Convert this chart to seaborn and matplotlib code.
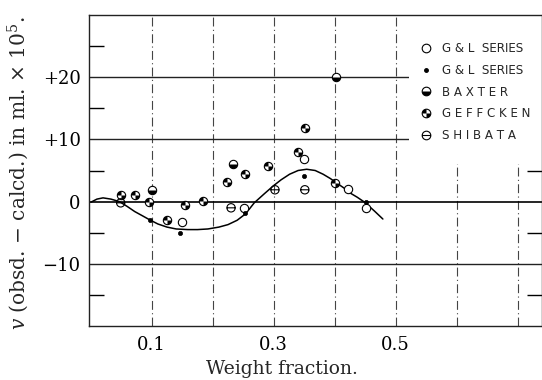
import numpy as np
import pandas as pd
import matplotlib
matplotlib.use("Agg")
import matplotlib.pyplot as plt
import seaborn as sns
from matplotlib.path import Path
from matplotlib.lines import Line2D
from matplotlib.patches import Rectangle
from matplotlib.ticker import FixedLocator

# ---------------- data ----------------
gl_open_x = [0.150, 0.251, 0.350, 0.421, 0.452]
gl_open_y = [-3.2, -1.0, 6.9, 2.0, -1.1]
gl_dot_x = [0.097, 0.147, 0.253, 0.349, 0.402, 0.451]
gl_dot_y = [-3.0, -5.0, -1.8, 4.1, 3.0, -0.1]
baxter_x = [0.100, 0.234, 0.402]
baxter_y = [1.9, 6.0, 20.0]
geffcken_x = [0.050, 0.072, 0.095, 0.125, 0.155, 0.184, 0.224, 0.253, 0.291, 0.340, 0.351, 0.400]
geffcken_y = [1.0, 1.0, 0.0, -2.9, -0.5, 0.1, 3.1, 4.4, 5.8, 7.9, 11.9, 3.0]
shibata_x = [0.049, 0.230, 0.302, 0.351]
shibata_y = [-0.2, -1.0, 1.9, 1.9]

curve_x = [0.0, 0.01, 0.02, 0.033, 0.047, 0.06, 0.072, 0.085, 0.096, 0.11, 0.125, 0.14,
           0.159, 0.175, 0.192, 0.21, 0.225, 0.24, 0.252, 0.26, 0.268, 0.285, 0.299, 0.312,
           0.326, 0.34, 0.354, 0.368, 0.381, 0.393, 0.403, 0.415, 0.425, 0.437, 0.449,
           0.465, 0.479]
curve_y = [-0.1, 0.4, 0.6, 0.4, 0.0, -0.8, -1.6, -2.3, -2.9, -3.6, -4.1, -4.4,
           -4.5, -4.5, -4.4, -4.1, -3.7, -3.0, -2.1, -1.2, -0.2, 1.3, 2.5, 3.5,
           4.4, 5.0, 5.2, 5.0, 4.4, 3.7, 3.0, 2.2, 1.4, 0.7, -0.1,
           -1.5, -2.8]

xtick_vals = [0.1, 0.3, 0.5]
xtick_labels = ["0.1", "0.3", "0.5"]
ytick_vals = [-10, 0, 10, 20]
ytick_labels = ["\u221210", "0", "+10", "+20"]
legend_labels = ["G & L  SERIES", "G & L  SERIES", "B A X T E R", "G E F F C K E N", "S H I B A T A"]

# ---------------- styling ----------------
sns.set_style("white")
plt.rcParams["font.family"] = ["DejaVu Serif"]
plt.rcParams["mathtext.fontset"] = "dejavuserif"

fig = plt.figure(figsize=(5.42, 3.80), dpi=100)
ax = fig.add_axes([89 / 542, 1 - 326 / 380, 453 / 542, 311 / 380])

ax.set_xlim(-0.003, 0.74)
ax.set_ylim(-20, 30)

# grid lines
for gx in [0.1, 0.2, 0.3, 0.4, 0.5, 0.6, 0.7]:
    ax.axvline(gx, color="#444444", lw=0.8, ls=(0, (8, 3, 1, 3)), zorder=1)
for gy in [-10, 10, 20]:
    ax.axhline(gy, color="#222222", lw=1.0, zorder=1)
ax.axhline(0, color="black", lw=1.2, zorder=1)

# blank legend area (grid interrupted there in the reference)
ax.add_patch(Rectangle((0.707, 0.52), 0.293, 0.478, transform=ax.transAxes,
                       facecolor="white", edgecolor="none", zorder=1.5))

# custom markers
circle = Path.unit_circle()
half_bottom = Path.wedge(180, 360)
quarters = Path.make_compound_path(Path.wedge(90, 180), Path.wedge(270, 360))
shibata_marker = Path.make_compound_path(circle, Path([[-1, 0], [1, 0]]))

S = 36
LW = 0.8

df_open = pd.DataFrame({"x": gl_open_x, "y": gl_open_y})
df_dot = pd.DataFrame({"x": gl_dot_x, "y": gl_dot_y})
df_bax = pd.DataFrame({"x": baxter_x, "y": baxter_y})
df_gef = pd.DataFrame({"x": geffcken_x, "y": geffcken_y})
df_shi = pd.DataFrame({"x": shibata_x, "y": shibata_y})
df_curve = pd.DataFrame({"x": curve_x, "y": curve_y})

sns.lineplot(data=df_curve, x="x", y="y", ax=ax, color="black", lw=1.1, sort=False, zorder=2)

kw = dict(ax=ax, legend=False, zorder=3)
sns.scatterplot(data=df_open, x="x", y="y", marker="o", s=S, facecolor="white",
                edgecolor="black", linewidth=LW, **kw)
sns.scatterplot(data=df_dot, x="x", y="y", marker="o", s=9, color="black",
                edgecolor="black", linewidth=0.5, **kw)
sns.scatterplot(data=df_bax, x="x", y="y", marker="o", s=S, facecolor="white",
                edgecolor="black", linewidth=LW, **kw)
sns.scatterplot(data=df_bax, x="x", y="y", marker=half_bottom, s=S, color="black",
                linewidth=0, **kw)
sns.scatterplot(data=df_gef, x="x", y="y", marker="o", s=S, facecolor="white",
                edgecolor="black", linewidth=LW, **kw)
sns.scatterplot(data=df_gef, x="x", y="y", marker=quarters, s=S, color="black",
                linewidth=0, **kw)
sns.scatterplot(data=df_shi, x="x", y="y", marker=shibata_marker, s=S, facecolor="none",
                edgecolor="black", linewidth=LW, **kw)

# ticks
ax.set_xticks(xtick_vals)
ax.set_xticklabels(xtick_labels)
ax.set_yticks(ytick_vals)
ax.set_yticklabels(ytick_labels)
ax.yaxis.set_minor_locator(FixedLocator([-15, -5, 5, 15, 25]))
ax.tick_params(axis="both", which="major", length=0, labelsize=13, colors="black")
ax.tick_params(axis="x", which="major", pad=7)
ax.tick_params(axis="y", which="major", pad=6)
ax.tick_params(axis="y", which="minor", direction="in", length=11, width=1.0,
               left=True, right=True, color="black")
fig.canvas.draw()
for val, tk in zip([-15, -5, 5, 15, 25], ax.yaxis.get_minor_ticks()):
    tk.tick2line.set_visible(val <= 5)

for sp in ax.spines.values():
    sp.set_color("#222222")
    sp.set_linewidth(1.0)

ax.set_xlabel("Weight fraction.", fontsize=13.5)
ax.xaxis.set_label_coords(0.426, -0.11)
ax.set_ylabel(r"$\it{v}$ (obsd. $-$ calcd.) in ml. $\times$ 10$^5$.", fontsize=14.5)
ax.yaxis.set_label_coords(-0.127, 0.49)

# legend
ms = 6.2
h_open = Line2D([], [], ls="none", marker="o", ms=ms, mfc="white", mec="black", mew=LW)
h_dot = Line2D([], [], ls="none", marker="o", ms=2.5, mfc="black", mec="black")
h_bax = (Line2D([], [], ls="none", marker="o", ms=ms, mfc="white", mec="black", mew=LW),
         Line2D([], [], ls="none", marker=half_bottom, ms=ms, mfc="black", mec="black", mew=0))
h_gef = (Line2D([], [], ls="none", marker="o", ms=ms, mfc="white", mec="black", mew=LW),
         Line2D([], [], ls="none", marker=quarters, ms=ms, mfc="black", mec="black", mew=0))
h_shi = Line2D([], [], ls="none", marker=shibata_marker, ms=ms, mfc="none", mec="black", mew=LW)

leg = ax.legend([h_open, h_dot, h_bax, h_gef, h_shi], legend_labels,
                loc="upper left", bbox_to_anchor=(0.718, 0.931), frameon=False,
                borderpad=0, handlelength=1.0, handletextpad=0.8, labelspacing=0.72,
                prop={"family": "DejaVu Sans", "size": 8.6})
leg.set_zorder(4)

fig.savefig("out.png", dpi=100, facecolor="white")
